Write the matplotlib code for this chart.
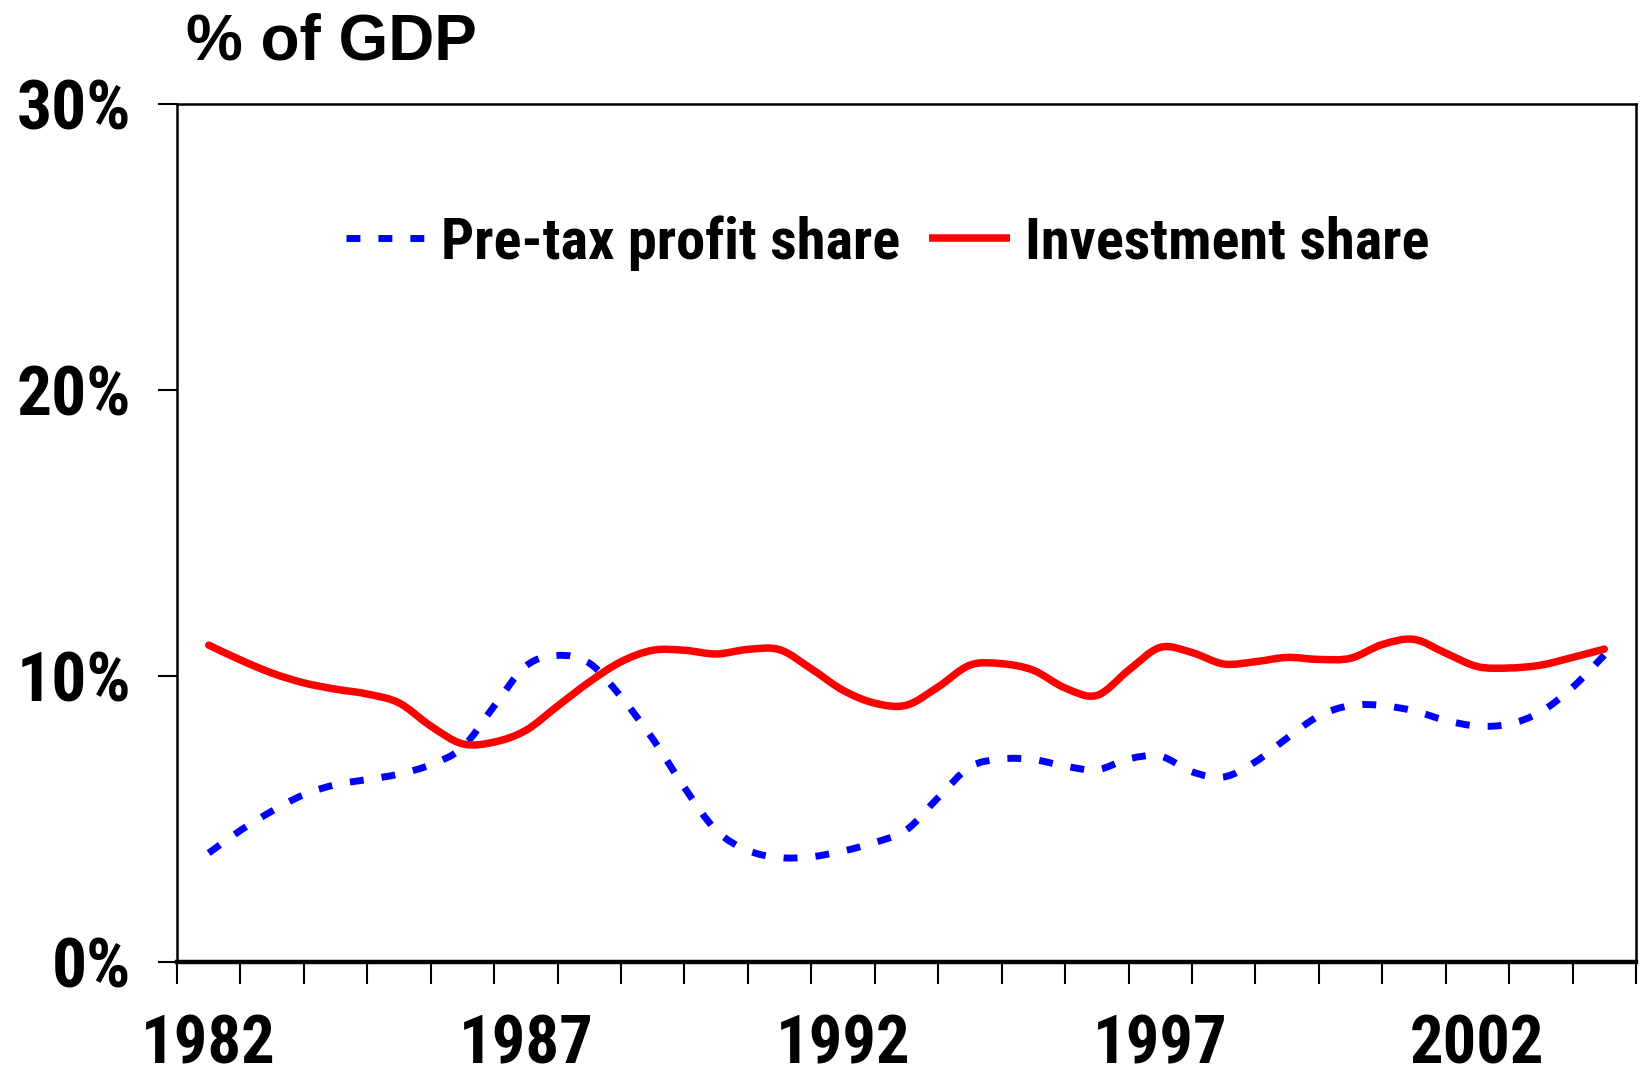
import matplotlib
matplotlib.use("Agg")
import matplotlib.pyplot as plt
import numpy as np
from matplotlib import font_manager as fm
from matplotlib.path import Path
from matplotlib.patches import PathPatch
from matplotlib.lines import Line2D

# ---- data (semi-annual readings, % of GDP) ----
periods = np.arange(1982.5, 2004.75, 0.5)
investment_share = [11.08, 10.56, 10.10, 9.76, 9.54, 9.37, 9.06, 8.25, 7.63, 7.69,
                    8.10, 8.95, 9.79, 10.50, 10.90, 10.90, 10.77, 10.93, 10.92, 10.25,
                    9.50, 9.05, 8.98, 9.62, 10.38, 10.43, 10.20, 9.58, 9.32, 10.20,
                    11.00, 10.82, 10.42, 10.50, 10.65, 10.58, 10.62, 11.10, 11.28, 10.80,
                    10.33, 10.28, 10.38, 10.65, 10.94]
profit_share = [3.81, 4.60, 5.28, 5.85, 6.20, 6.38, 6.57, 6.90, 7.50, 8.95,
                10.35, 10.72, 10.45, 9.27, 7.80, 6.10, 4.60, 3.90, 3.65, 3.68,
                3.88, 4.18, 4.62, 5.75, 6.82, 7.10, 7.08, 6.85, 6.72, 7.10,
                7.20, 6.65, 6.47, 7.00, 7.83, 8.60, 8.97, 8.97, 8.78, 8.45,
                8.25, 8.32, 8.75, 9.60, 10.73]
first_year = 1982
n_years = 23
year_labels = ["1982", "1987", "1992", "1997", "2002"]
y_ticks = [0, 10, 20, 30]
y_labels = ["0%", "10%", "20%", "30%"]
series_labels = ["Pre-tax profit share", "Investment share"]

# ---- fonts ----
names = {f.name for f in fm.fontManager.ttflist}
narrow = next((n for n in ["Liberation Sans Narrow", "Arial Narrow", "Roboto Condensed",
                           "Open Sans Condensed"] if n in names), None)
if narrow:
    tick_font, xsize, ysize, legsize = narrow, 48, 50, 42
else:
    tick_font, xsize, ysize, legsize = "Liberation Sans", 45, 45, 37
title_font = "Liberation Sans"


def smooth_path(xs, ys):
    """Excel-style smoothed line: cubic Bezier segments through the data points."""
    pts = np.column_stack([xs, ys]).astype(float)
    verts = [pts[0]]
    codes = [Path.MOVETO]
    n = len(pts)
    for i in range(n - 1):
        p0 = pts[i - 1] if i > 0 else pts[i]
        p1, p2 = pts[i], pts[i + 1]
        p3 = pts[i + 2] if i + 2 < n else pts[i + 1]
        c1 = p1 + (p2 - p0) / 6.0
        c2 = p2 - (p3 - p1) / 6.0
        verts += [c1, c2, p2]
        codes += [Path.CURVE4] * 3
    return Path(verts, codes)


fig = plt.figure(figsize=(16.42, 10.92), dpi=100)
ax = fig.add_axes([177 / 1642, 130 / 1092, 1459 / 1642, 858 / 1092])

x = periods - first_year
blue_style = dict(color="#0000FF", lw=5.0, linestyle=(0, (2.0, 2.6)))
red_style = dict(color="#FF0000", lw=5.4)
ax.add_patch(PathPatch(smooth_path(x, profit_share), fill=False, capstyle="butt",
                       edgecolor=blue_style["color"], lw=blue_style["lw"],
                       linestyle=blue_style["linestyle"]))
ax.add_patch(PathPatch(smooth_path(x, investment_share), fill=False, capstyle="round",
                       joinstyle="round", edgecolor=red_style["color"], lw=red_style["lw"]))

ax.set_xlim(0, n_years)
ax.set_ylim(0, 30)

# x axis: category boundaries as ticks, labels centred in categories
ax.set_xticks(np.arange(0, n_years + 1))
ax.set_xticklabels([])
ax.tick_params(axis="x", which="major", direction="out", length=16, width=1.5)
ax.set_xticks([0.5 + 5 * i for i in range(len(year_labels))], minor=True)
ax.set_xticklabels(year_labels, minor=True, fontfamily=tick_font,
                   fontsize=xsize, fontweight="bold")
ax.tick_params(axis="x", which="minor", length=0, pad=37)

ax.set_yticks(y_ticks)
ax.set_yticklabels(y_labels, fontfamily=tick_font, fontsize=ysize, fontweight="bold")
ax.tick_params(axis="y", direction="out", length=14, width=1.5, pad=19)

for s in ["left", "top", "right"]:
    ax.spines[s].set_linewidth(1.8)
ax.spines["bottom"].set_linewidth(3.2)

fig.text(186 / 1642, 1 - 60 / 1092, "% of GDP", fontfamily=title_font,
         fontsize=46, fontweight="bold", va="baseline", ha="left")

handles = [Line2D([], [], dash_capstyle="butt", **blue_style),
           Line2D([], [], solid_capstyle="butt", **red_style)]
ax.legend(handles, series_labels, loc="center", bbox_to_anchor=(0.487, 0.838), ncol=2,
          frameon=False, prop={"family": tick_font, "size": legsize, "weight": "bold"},
          handlelength=1.38, handletextpad=0.26, columnspacing=0.5, borderaxespad=0)

fig.savefig("out.png", dpi=100, facecolor="white")
